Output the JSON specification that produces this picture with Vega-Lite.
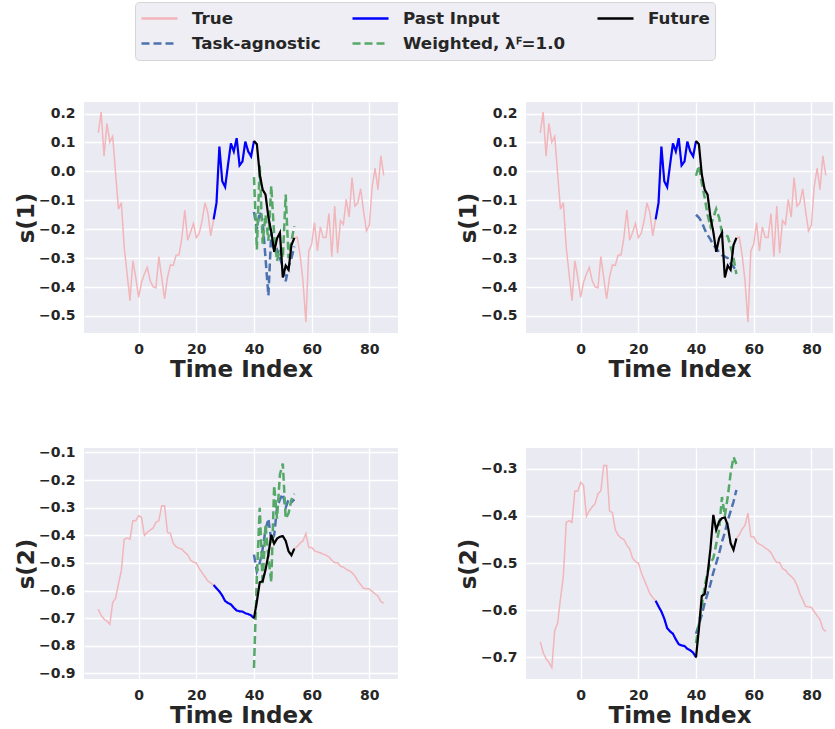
{
"$schema": "https://vega.github.io/schema/vega-lite/v6.json",
"background": "white",
"padding": {"left": 15, "top": 1, "right": 0, "bottom": 0},
"bounds": "flush",
"columns": 2,
"spacing": {"row": 115, "column": 128},
"datasets": {
"s1": [
{"series":"True","t":-14,"v":0.133},{"series":"True","t":-13,"v":0.205},{"series":"True","t":-12,"v":0.053},{"series":"True","t":-11,"v":0.166},{"series":"True","t":-10,"v":0.101},{"series":"True","t":-9,"v":0.121},{"series":"True","t":-8,"v":-0.005},{"series":"True","t":-7,"v":-0.131},{"series":"True","t":-6,"v":-0.108},{"series":"True","t":-5,"v":-0.263},{"series":"True","t":-4,"v":-0.355},{"series":"True","t":-3,"v":-0.447},{"series":"True","t":-2,"v":-0.309},{"series":"True","t":-1,"v":-0.367},{"series":"True","t":0,"v":-0.436},{"series":"True","t":1,"v":-0.384},{"series":"True","t":2,"v":-0.355},{"series":"True","t":3,"v":-0.332},{"series":"True","t":4,"v":-0.378},{"series":"True","t":5,"v":-0.399},{"series":"True","t":6,"v":-0.403},{"series":"True","t":7,"v":-0.295},{"series":"True","t":8,"v":-0.367},{"series":"True","t":9,"v":-0.441},{"series":"True","t":10,"v":-0.367},{"series":"True","t":11,"v":-0.324},{"series":"True","t":12,"v":-0.325},{"series":"True","t":13,"v":-0.29},{"series":"True","t":14,"v":-0.289},{"series":"True","t":15,"v":-0.229},{"series":"True","t":16,"v":-0.134},{"series":"True","t":17,"v":-0.238},{"series":"True","t":18,"v":-0.211},{"series":"True","t":19,"v":-0.18},{"series":"True","t":20,"v":-0.229},{"series":"True","t":21,"v":-0.215},{"series":"True","t":22,"v":-0.171},{"series":"True","t":23,"v":-0.109},{"series":"True","t":24,"v":-0.143},{"series":"True","t":25,"v":-0.223},{"series":"True","t":26,"v":-0.166},{"series":"True","t":27,"v":-0.109},{"series":"True","t":28,"v":0.086},{"series":"True","t":29,"v":-0.034},{"series":"True","t":30,"v":-0.054},{"series":"True","t":31,"v":0.023},{"series":"True","t":32,"v":0.097},{"series":"True","t":33,"v":0.069},{"series":"True","t":34,"v":0.115},{"series":"True","t":35,"v":0.021},{"series":"True","t":36,"v":0.034},{"series":"True","t":37,"v":0.103},{"series":"True","t":38,"v":0.069},{"series":"True","t":39,"v":0.052},{"series":"True","t":40,"v":0.105},{"series":"True","t":41,"v":0.094},{"series":"True","t":42,"v":-0.01},{"series":"True","t":43,"v":-0.063},{"series":"True","t":44,"v":-0.08},{"series":"True","t":45,"v":-0.158},{"series":"True","t":46,"v":-0.209},{"series":"True","t":47,"v":-0.278},{"series":"True","t":48,"v":-0.232},{"series":"True","t":49,"v":-0.212},{"series":"True","t":50,"v":-0.367},{"series":"True","t":51,"v":-0.326},{"series":"True","t":52,"v":-0.34},{"series":"True","t":53,"v":-0.255},{"series":"True","t":54,"v":-0.23},{"series":"True","t":55,"v":-0.227},{"series":"True","t":56,"v":-0.29},{"series":"True","t":57,"v":-0.38},{"series":"True","t":58,"v":-0.522},{"series":"True","t":59,"v":-0.275},{"series":"True","t":60,"v":-0.252},{"series":"True","t":61,"v":-0.177},{"series":"True","t":62,"v":-0.275},{"series":"True","t":63,"v":-0.192},{"series":"True","t":64,"v":-0.229},{"series":"True","t":65,"v":-0.229},{"series":"True","t":66,"v":-0.146},{"series":"True","t":67,"v":-0.295},{"series":"True","t":68,"v":-0.12},{"series":"True","t":69,"v":-0.283},{"series":"True","t":70,"v":-0.17},{"series":"True","t":71,"v":-0.183},{"series":"True","t":72,"v":-0.097},{"series":"True","t":73,"v":-0.158},{"series":"True","t":74,"v":-0.021},{"series":"True","t":75,"v":-0.12},{"series":"True","t":76,"v":-0.109},{"series":"True","t":77,"v":-0.06},{"series":"True","t":78,"v":-0.137},{"series":"True","t":79,"v":-0.206},{"series":"True","t":80,"v":-0.186},{"series":"True","t":81,"v":-0.052},{"series":"True","t":82,"v":0.011},{"series":"True","t":83,"v":-0.063},{"series":"True","t":84,"v":0.054},{"series":"True","t":85,"v":-0.014},
{"series":"Past Input","t":26,"v":-0.166},{"series":"Past Input","t":27,"v":-0.109},{"series":"Past Input","t":28,"v":0.086},{"series":"Past Input","t":29,"v":-0.034},{"series":"Past Input","t":30,"v":-0.054},{"series":"Past Input","t":31,"v":0.023},{"series":"Past Input","t":32,"v":0.097},{"series":"Past Input","t":33,"v":0.069},{"series":"Past Input","t":34,"v":0.115},{"series":"Past Input","t":35,"v":0.021},{"series":"Past Input","t":36,"v":0.034},{"series":"Past Input","t":37,"v":0.103},{"series":"Past Input","t":38,"v":0.069},{"series":"Past Input","t":39,"v":0.052},{"series":"Past Input","t":40,"v":0.105},
{"series":"Future","t":40,"v":0.105},{"series":"Future","t":41,"v":0.094},{"series":"Future","t":42,"v":-0.01},{"series":"Future","t":43,"v":-0.063},{"series":"Future","t":44,"v":-0.08},{"series":"Future","t":45,"v":-0.158},{"series":"Future","t":46,"v":-0.209},{"series":"Future","t":47,"v":-0.278},{"series":"Future","t":48,"v":-0.232},{"series":"Future","t":49,"v":-0.212},{"series":"Future","t":50,"v":-0.367},{"series":"Future","t":51,"v":-0.326},{"series":"Future","t":52,"v":-0.34},{"series":"Future","t":53,"v":-0.255},{"series":"Future","t":54,"v":-0.23}
],
"s2": [
{"series":"True","t":-14,"v":-0.667},{"series":"True","t":-13,"v":-0.69},{"series":"True","t":-12,"v":-0.703},{"series":"True","t":-11,"v":-0.711},{"series":"True","t":-10,"v":-0.722},{"series":"True","t":-9,"v":-0.643},{"series":"True","t":-8,"v":-0.628},{"series":"True","t":-7,"v":-0.576},{"series":"True","t":-6,"v":-0.528},{"series":"True","t":-5,"v":-0.414},{"series":"True","t":-4,"v":-0.41},{"series":"True","t":-3,"v":-0.414},{"series":"True","t":-2,"v":-0.347},{"series":"True","t":-1,"v":-0.347},{"series":"True","t":0,"v":-0.329},{"series":"True","t":1,"v":-0.335},{"series":"True","t":2,"v":-0.401},{"series":"True","t":3,"v":-0.389},{"series":"True","t":4,"v":-0.381},{"series":"True","t":5,"v":-0.374},{"series":"True","t":6,"v":-0.353},{"series":"True","t":7,"v":-0.347},{"series":"True","t":8,"v":-0.293},{"series":"True","t":9,"v":-0.293},{"series":"True","t":10,"v":-0.389},{"series":"True","t":11,"v":-0.393},{"series":"True","t":12,"v":-0.429},{"series":"True","t":13,"v":-0.441},{"series":"True","t":14,"v":-0.447},{"series":"True","t":15,"v":-0.45},{"series":"True","t":16,"v":-0.462},{"series":"True","t":17,"v":-0.47},{"series":"True","t":18,"v":-0.49},{"series":"True","t":19,"v":-0.497},{"series":"True","t":20,"v":-0.5},{"series":"True","t":21,"v":-0.52},{"series":"True","t":22,"v":-0.535},{"series":"True","t":23,"v":-0.55},{"series":"True","t":24,"v":-0.565},{"series":"True","t":25,"v":-0.573},{"series":"True","t":26,"v":-0.58},{"series":"True","t":27,"v":-0.592},{"series":"True","t":28,"v":-0.603},{"series":"True","t":29,"v":-0.618},{"series":"True","t":30,"v":-0.638},{"series":"True","t":31,"v":-0.645},{"series":"True","t":32,"v":-0.65},{"series":"True","t":33,"v":-0.662},{"series":"True","t":34,"v":-0.672},{"series":"True","t":35,"v":-0.675},{"series":"True","t":36,"v":-0.676},{"series":"True","t":37,"v":-0.682},{"series":"True","t":38,"v":-0.685},{"series":"True","t":39,"v":-0.69},{"series":"True","t":40,"v":-0.7},{"series":"True","t":41,"v":-0.64},{"series":"True","t":42,"v":-0.57},{"series":"True","t":43,"v":-0.566},{"series":"True","t":44,"v":-0.525},{"series":"True","t":45,"v":-0.47},{"series":"True","t":46,"v":-0.398},{"series":"True","t":47,"v":-0.43},{"series":"True","t":48,"v":-0.412},{"series":"True","t":49,"v":-0.405},{"series":"True","t":50,"v":-0.403},{"series":"True","t":51,"v":-0.42},{"series":"True","t":52,"v":-0.458},{"series":"True","t":53,"v":-0.472},{"series":"True","t":54,"v":-0.448},{"series":"True","t":55,"v":-0.44},{"series":"True","t":56,"v":-0.428},{"series":"True","t":57,"v":-0.42},{"series":"True","t":58,"v":-0.394},{"series":"True","t":59,"v":-0.444},{"series":"True","t":60,"v":-0.444},{"series":"True","t":61,"v":-0.456},{"series":"True","t":62,"v":-0.46},{"series":"True","t":63,"v":-0.463},{"series":"True","t":64,"v":-0.468},{"series":"True","t":65,"v":-0.472},{"series":"True","t":66,"v":-0.478},{"series":"True","t":67,"v":-0.49},{"series":"True","t":68,"v":-0.499},{"series":"True","t":69,"v":-0.499},{"series":"True","t":70,"v":-0.512},{"series":"True","t":71,"v":-0.515},{"series":"True","t":72,"v":-0.523},{"series":"True","t":73,"v":-0.528},{"series":"True","t":74,"v":-0.535},{"series":"True","t":75,"v":-0.547},{"series":"True","t":76,"v":-0.565},{"series":"True","t":77,"v":-0.578},{"series":"True","t":78,"v":-0.592},{"series":"True","t":79,"v":-0.593},{"series":"True","t":80,"v":-0.594},{"series":"True","t":81,"v":-0.603},{"series":"True","t":82,"v":-0.612},{"series":"True","t":83,"v":-0.62},{"series":"True","t":84,"v":-0.64},{"series":"True","t":85,"v":-0.645},
{"series":"Past Input","t":26,"v":-0.58},{"series":"Past Input","t":27,"v":-0.592},{"series":"Past Input","t":28,"v":-0.603},{"series":"Past Input","t":29,"v":-0.618},{"series":"Past Input","t":30,"v":-0.638},{"series":"Past Input","t":31,"v":-0.645},{"series":"Past Input","t":32,"v":-0.65},{"series":"Past Input","t":33,"v":-0.662},{"series":"Past Input","t":34,"v":-0.672},{"series":"Past Input","t":35,"v":-0.675},{"series":"Past Input","t":36,"v":-0.676},{"series":"Past Input","t":37,"v":-0.682},{"series":"Past Input","t":38,"v":-0.685},{"series":"Past Input","t":39,"v":-0.69},{"series":"Past Input","t":40,"v":-0.7},
{"series":"Future","t":40,"v":-0.7},{"series":"Future","t":41,"v":-0.64},{"series":"Future","t":42,"v":-0.57},{"series":"Future","t":43,"v":-0.566},{"series":"Future","t":44,"v":-0.525},{"series":"Future","t":45,"v":-0.47},{"series":"Future","t":46,"v":-0.398},{"series":"Future","t":47,"v":-0.43},{"series":"Future","t":48,"v":-0.412},{"series":"Future","t":49,"v":-0.405},{"series":"Future","t":50,"v":-0.403},{"series":"Future","t":51,"v":-0.42},{"series":"Future","t":52,"v":-0.458},{"series":"Future","t":53,"v":-0.472},{"series":"Future","t":54,"v":-0.448}
],
"pa": [
{"series":"Task-agnostic","t":40,"v":-0.14},{"series":"Task-agnostic","t":41,"v":-0.2},{"series":"Task-agnostic","t":42,"v":-0.14},{"series":"Task-agnostic","t":43,"v":-0.17},{"series":"Task-agnostic","t":44,"v":-0.3},{"series":"Task-agnostic","t":45,"v":-0.43},{"series":"Task-agnostic","t":46,"v":-0.21},{"series":"Task-agnostic","t":47,"v":-0.28},{"series":"Task-agnostic","t":48,"v":-0.27},{"series":"Task-agnostic","t":49,"v":-0.3},{"series":"Task-agnostic","t":50,"v":-0.33},{"series":"Task-agnostic","t":51,"v":-0.38},{"series":"Task-agnostic","t":52,"v":-0.33},{"series":"Task-agnostic","t":53,"v":-0.3},{"series":"Task-agnostic","t":54,"v":-0.26},
{"series":"Weighted","t":40,"v":-0.02},{"series":"Weighted","t":41,"v":-0.27},{"series":"Weighted","t":42,"v":0.02},{"series":"Weighted","t":43,"v":-0.25},{"series":"Weighted","t":44,"v":-0.15},{"series":"Weighted","t":45,"v":-0.24},{"series":"Weighted","t":46,"v":-0.05},{"series":"Weighted","t":47,"v":-0.22},{"series":"Weighted","t":48,"v":-0.31},{"series":"Weighted","t":49,"v":-0.27},{"series":"Weighted","t":50,"v":-0.3},{"series":"Weighted","t":51,"v":-0.08},{"series":"Weighted","t":52,"v":-0.3},{"series":"Weighted","t":53,"v":-0.24},{"series":"Weighted","t":54,"v":-0.19}
],
"pb": [
{"series":"Task-agnostic","t":40,"v":-0.15},{"series":"Task-agnostic","t":41,"v":-0.16},{"series":"Task-agnostic","t":42,"v":-0.175},{"series":"Task-agnostic","t":43,"v":-0.2},{"series":"Task-agnostic","t":44,"v":-0.22},{"series":"Task-agnostic","t":45,"v":-0.235},{"series":"Task-agnostic","t":46,"v":-0.255},{"series":"Task-agnostic","t":47,"v":-0.265},{"series":"Task-agnostic","t":48,"v":-0.28},{"series":"Task-agnostic","t":49,"v":-0.29},{"series":"Task-agnostic","t":50,"v":-0.295},{"series":"Task-agnostic","t":51,"v":-0.3},{"series":"Task-agnostic","t":52,"v":-0.32},{"series":"Task-agnostic","t":53,"v":-0.33},{"series":"Task-agnostic","t":54,"v":-0.345},
{"series":"Weighted","t":40,"v":-0.015},{"series":"Weighted","t":41,"v":0.02},{"series":"Weighted","t":42,"v":-0.04},{"series":"Weighted","t":43,"v":-0.09},{"series":"Weighted","t":44,"v":-0.15},{"series":"Weighted","t":45,"v":-0.19},{"series":"Weighted","t":46,"v":-0.16},{"series":"Weighted","t":47,"v":-0.13},{"series":"Weighted","t":48,"v":-0.16},{"series":"Weighted","t":49,"v":-0.21},{"series":"Weighted","t":50,"v":-0.22},{"series":"Weighted","t":51,"v":-0.225},{"series":"Weighted","t":52,"v":-0.26},{"series":"Weighted","t":53,"v":-0.3},{"series":"Weighted","t":54,"v":-0.355}
],
"pc": [
{"series":"Task-agnostic","t":40,"v":-0.47},{"series":"Task-agnostic","t":41,"v":-0.53},{"series":"Task-agnostic","t":42,"v":-0.5},{"series":"Task-agnostic","t":43,"v":-0.45},{"series":"Task-agnostic","t":44,"v":-0.38},{"series":"Task-agnostic","t":45,"v":-0.34},{"series":"Task-agnostic","t":46,"v":-0.42},{"series":"Task-agnostic","t":47,"v":-0.4},{"series":"Task-agnostic","t":48,"v":-0.3},{"series":"Task-agnostic","t":49,"v":-0.27},{"series":"Task-agnostic","t":50,"v":-0.25},{"series":"Task-agnostic","t":51,"v":-0.3},{"series":"Task-agnostic","t":52,"v":-0.27},{"series":"Task-agnostic","t":53,"v":-0.28},{"series":"Task-agnostic","t":54,"v":-0.27},
{"series":"Weighted","t":40,"v":-0.88},{"series":"Weighted","t":41,"v":-0.55},{"series":"Weighted","t":42,"v":-0.3},{"series":"Weighted","t":43,"v":-0.58},{"series":"Weighted","t":44,"v":-0.36},{"series":"Weighted","t":45,"v":-0.48},{"series":"Weighted","t":46,"v":-0.57},{"series":"Weighted","t":47,"v":-0.22},{"series":"Weighted","t":48,"v":-0.34},{"series":"Weighted","t":49,"v":-0.18},{"series":"Weighted","t":50,"v":-0.14},{"series":"Weighted","t":51,"v":-0.34},{"series":"Weighted","t":52,"v":-0.32},{"series":"Weighted","t":53,"v":-0.27},{"series":"Weighted","t":54,"v":-0.25}
],
"pd": [
{"series":"Task-agnostic","t":40,"v":-0.65},{"series":"Task-agnostic","t":41,"v":-0.63},{"series":"Task-agnostic","t":42,"v":-0.61},{"series":"Task-agnostic","t":43,"v":-0.585},{"series":"Task-agnostic","t":44,"v":-0.565},{"series":"Task-agnostic","t":45,"v":-0.545},{"series":"Task-agnostic","t":46,"v":-0.52},{"series":"Task-agnostic","t":47,"v":-0.5},{"series":"Task-agnostic","t":48,"v":-0.48},{"series":"Task-agnostic","t":49,"v":-0.455},{"series":"Task-agnostic","t":50,"v":-0.435},{"series":"Task-agnostic","t":51,"v":-0.41},{"series":"Task-agnostic","t":52,"v":-0.39},{"series":"Task-agnostic","t":53,"v":-0.37},{"series":"Task-agnostic","t":54,"v":-0.345},
{"series":"Weighted","t":40,"v":-0.67},{"series":"Weighted","t":41,"v":-0.63},{"series":"Weighted","t":42,"v":-0.59},{"series":"Weighted","t":43,"v":-0.55},{"series":"Weighted","t":44,"v":-0.52},{"series":"Weighted","t":45,"v":-0.5},{"series":"Weighted","t":46,"v":-0.49},{"series":"Weighted","t":47,"v":-0.46},{"series":"Weighted","t":48,"v":-0.43},{"series":"Weighted","t":49,"v":-0.36},{"series":"Weighted","t":50,"v":-0.4},{"series":"Weighted","t":51,"v":-0.36},{"series":"Weighted","t":52,"v":-0.31},{"series":"Weighted","t":53,"v":-0.275},{"series":"Weighted","t":54,"v":-0.29}
]
},
"concat": [
{
"width": 314, "height": 231,
"encoding": {
"x": {"field": "t", "type": "quantitative", "scale": {"domain": [-18.95, 89.95], "nice": false, "zero": false}, "axis": {"values": [0, 20, 40, 60, 80], "title": "Time Index"}},
"y": {"field": "v", "type": "quantitative", "scale": {"domain": [-0.559, 0.24], "nice": false, "zero": false}, "axis": {"values": [0.2, 0.1, 0, -0.1, -0.2, -0.3, -0.4, -0.5], "format": ".1f", "title": "s(1)"}},
"color": {"field": "series", "type": "nominal", "scale": {"domain": ["True", "Task-agnostic", "Past Input", "Weighted", "Future"], "range": ["#f2b5b9", "#4c72b0", "#0000ff", "#55a868", "#000000"]}, "legend": {"orient": "none", "legendX": 51, "legendY": -100, "columns": 3, "title": null, "labelExpr": "datum.label == 'Weighted' ? 'Weighted, λꟳ=1.0' : datum.label"}},
"strokeDash": {"field": "series", "type": "nominal", "scale": {"domain": ["True", "Task-agnostic", "Past Input", "Weighted", "Future"], "range": [[1, 0], [8, 4], [1, 0], [8, 4], [1, 0]]}, "legend": {"orient": "none", "legendX": 51, "legendY": -100, "columns": 3, "title": null, "labelExpr": "datum.label == 'Weighted' ? 'Weighted, λꟳ=1.0' : datum.label"}}
},
"layer": [
{"data": {"name": "s1"}, "transform": [{"filter": "datum.series == 'True'"}], "mark": {"type": "line", "strokeWidth": 1.5, "clip": true}},
{"data": {"name": "pa"}, "transform": [{"filter": "datum.series == 'Task-agnostic'"}], "mark": {"type": "line", "strokeWidth": 2.5, "clip": true}},
{"data": {"name": "s1"}, "transform": [{"filter": "datum.series == 'Past Input'"}], "mark": {"type": "line", "strokeWidth": 2.2, "clip": true}},
{"data": {"name": "pa"}, "transform": [{"filter": "datum.series == 'Weighted'"}], "mark": {"type": "line", "strokeWidth": 2.5, "clip": true}},
{"data": {"name": "s1"}, "transform": [{"filter": "datum.series == 'Future'"}], "mark": {"type": "line", "strokeWidth": 2.2, "clip": true}}
]
},
{
"width": 307, "height": 231,
"encoding": {
"x": {"field": "t", "type": "quantitative", "scale": {"domain": [-18.95, 87.5], "nice": false, "zero": false}, "axis": {"values": [0, 20, 40, 60, 80], "title": "Time Index"}},
"y": {"field": "v", "type": "quantitative", "scale": {"domain": [-0.559, 0.24], "nice": false, "zero": false}, "axis": {"values": [0.2, 0.1, 0, -0.1, -0.2, -0.3, -0.4, -0.5], "format": ".1f", "title": "s(1)"}},
"color": {"field": "series", "type": "nominal", "scale": {"domain": ["True", "Task-agnostic", "Past Input", "Weighted", "Future"], "range": ["#f2b5b9", "#4c72b0", "#0000ff", "#55a868", "#000000"]}},
"strokeDash": {"field": "series", "type": "nominal", "scale": {"domain": ["True", "Task-agnostic", "Past Input", "Weighted", "Future"], "range": [[1, 0], [8, 4], [1, 0], [8, 4], [1, 0]]}}
},
"layer": [
{"data": {"name": "s1"}, "transform": [{"filter": "datum.series == 'True'"}], "mark": {"type": "line", "strokeWidth": 1.5, "clip": true}},
{"data": {"name": "pb"}, "transform": [{"filter": "datum.series == 'Task-agnostic'"}], "mark": {"type": "line", "strokeWidth": 2.5, "clip": true}},
{"data": {"name": "s1"}, "transform": [{"filter": "datum.series == 'Past Input'"}], "mark": {"type": "line", "strokeWidth": 2.2, "clip": true}},
{"data": {"name": "pb"}, "transform": [{"filter": "datum.series == 'Weighted'"}], "mark": {"type": "line", "strokeWidth": 2.5, "clip": true}},
{"data": {"name": "s1"}, "transform": [{"filter": "datum.series == 'Future'"}], "mark": {"type": "line", "strokeWidth": 2.2, "clip": true}}
]
},
{
"width": 314, "height": 231,
"encoding": {
"x": {"field": "t", "type": "quantitative", "scale": {"domain": [-18.95, 89.95], "nice": false, "zero": false}, "axis": {"values": [0, 20, 40, 60, 80], "title": "Time Index"}},
"y": {"field": "v", "type": "quantitative", "scale": {"domain": [-0.92, -0.084], "nice": false, "zero": false}, "axis": {"values": [-0.1, -0.2, -0.3, -0.4, -0.5, -0.6, -0.7, -0.8, -0.9], "format": ".1f", "title": "s(2)"}},
"color": {"field": "series", "type": "nominal", "scale": {"domain": ["True", "Task-agnostic", "Past Input", "Weighted", "Future"], "range": ["#f2b5b9", "#4c72b0", "#0000ff", "#55a868", "#000000"]}},
"strokeDash": {"field": "series", "type": "nominal", "scale": {"domain": ["True", "Task-agnostic", "Past Input", "Weighted", "Future"], "range": [[1, 0], [8, 4], [1, 0], [8, 4], [1, 0]]}}
},
"layer": [
{"data": {"name": "s2"}, "transform": [{"filter": "datum.series == 'True'"}], "mark": {"type": "line", "strokeWidth": 1.5, "clip": true}},
{"data": {"name": "pc"}, "transform": [{"filter": "datum.series == 'Task-agnostic'"}], "mark": {"type": "line", "strokeWidth": 2.5, "clip": true}},
{"data": {"name": "s2"}, "transform": [{"filter": "datum.series == 'Past Input'"}], "mark": {"type": "line", "strokeWidth": 2.2, "clip": true}},
{"data": {"name": "pc"}, "transform": [{"filter": "datum.series == 'Weighted'"}], "mark": {"type": "line", "strokeWidth": 2.5, "clip": true}},
{"data": {"name": "s2"}, "transform": [{"filter": "datum.series == 'Future'"}], "mark": {"type": "line", "strokeWidth": 2.2, "clip": true}}
]
},
{
"width": 307, "height": 231,
"encoding": {
"x": {"field": "t", "type": "quantitative", "scale": {"domain": [-18.95, 87.5], "nice": false, "zero": false}, "axis": {"values": [0, 20, 40, 60, 80], "title": "Time Index"}},
"y": {"field": "v", "type": "quantitative", "scale": {"domain": [-0.746, -0.256], "nice": false, "zero": false}, "axis": {"values": [-0.3, -0.4, -0.5, -0.6, -0.7], "format": ".1f", "title": "s(2)"}},
"color": {"field": "series", "type": "nominal", "scale": {"domain": ["True", "Task-agnostic", "Past Input", "Weighted", "Future"], "range": ["#f2b5b9", "#4c72b0", "#0000ff", "#55a868", "#000000"]}},
"strokeDash": {"field": "series", "type": "nominal", "scale": {"domain": ["True", "Task-agnostic", "Past Input", "Weighted", "Future"], "range": [[1, 0], [8, 4], [1, 0], [8, 4], [1, 0]]}}
},
"layer": [
{"data": {"name": "s2"}, "transform": [{"filter": "datum.series == 'True'"}], "mark": {"type": "line", "strokeWidth": 1.5, "clip": true}},
{"data": {"name": "pd"}, "transform": [{"filter": "datum.series == 'Task-agnostic'"}], "mark": {"type": "line", "strokeWidth": 2.5, "clip": true}},
{"data": {"name": "s2"}, "transform": [{"filter": "datum.series == 'Past Input'"}], "mark": {"type": "line", "strokeWidth": 2.2, "clip": true}},
{"data": {"name": "pd"}, "transform": [{"filter": "datum.series == 'Weighted'"}], "mark": {"type": "line", "strokeWidth": 2.5, "clip": true}},
{"data": {"name": "s2"}, "transform": [{"filter": "datum.series == 'Future'"}], "mark": {"type": "line", "strokeWidth": 2.2, "clip": true}}
]
}
],
"resolve": {"scale": {"x": "independent", "y": "independent", "color": "shared", "strokeDash": "shared"}, "legend": {"color": "shared", "strokeDash": "shared"}},
"config": {
"font": "DejaVu Sans",
"view": {"fill": "#EAEAF2", "stroke": null},
"axis": {"grid": true, "gridColor": "#ffffff", "gridWidth": 1.3, "domain": false, "ticks": false, "labelFont": "DejaVu Sans", "labelFontWeight": "bold", "labelFontSize": 14, "labelColor": "#262626", "labelPadding": 9, "labelFlush": false, "labelOverlap": false, "titleFont": "DejaVu Sans", "titleFontWeight": "bold", "titleFontSize": 23, "titleColor": "#262626"},
"axisX": {"titlePadding": 2},
"axisY": {"titlePadding": 0},
"legend": {"symbolType": "stroke", "symbolSize": 1296, "symbolStrokeWidth": 2.5, "labelFont": "DejaVu Sans", "labelFontWeight": "bold", "labelFontSize": 16.7, "labelColor": "#262626", "labelOffset": 13, "columnPadding": 30, "rowPadding": 2, "clipHeight": 23, "padding": 5, "fillColor": "#eeeef4", "strokeColor": "#d5d5d5", "cornerRadius": 4, "labelLimit": 400}
}
}
